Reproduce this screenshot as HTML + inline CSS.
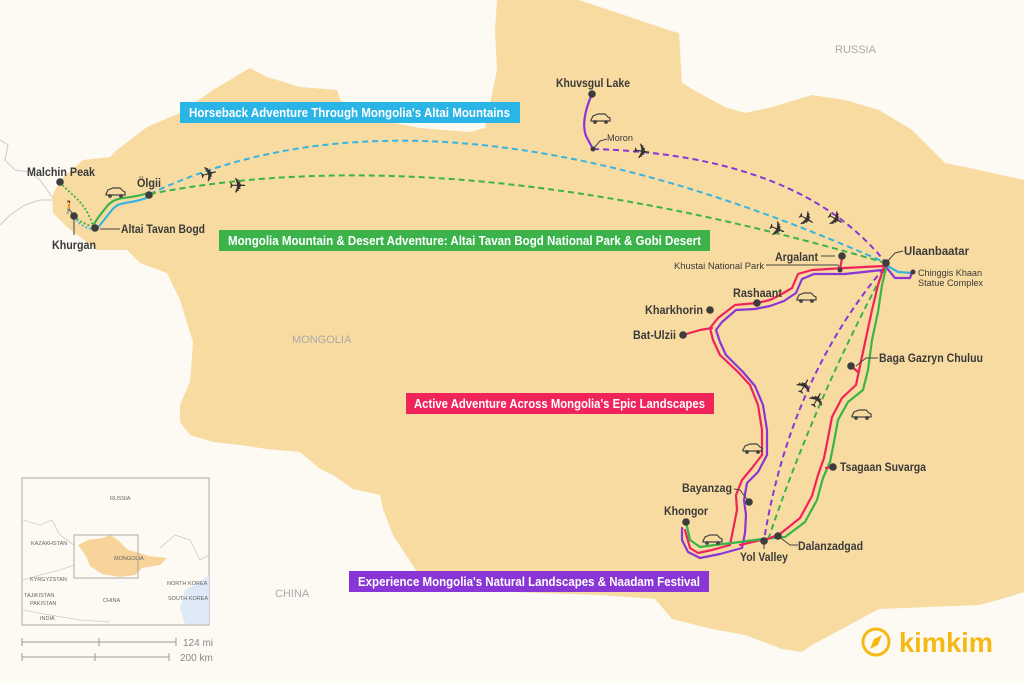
<!DOCTYPE html>
<html><head><meta charset="utf-8"><style>
html,body{margin:0;padding:0;background:#fdfaf3;}
svg{display:block;font-family:"Liberation Sans",sans-serif;}
.n{fill:#3d3d3d;}
.lb{font-weight:bold;font-size:12px;fill:#3a3a3a;}
.sm{font-size:9.5px;fill:#3a3a3a;}
.bar{font-weight:bold;font-size:12.5px;fill:#fff;}
.pl{font-family:"DejaVu Sans",sans-serif;font-size:21px;fill:#333;}
.r{fill:none;stroke-width:2.2;stroke-linejoin:round;stroke-linecap:round;}
.d{fill:none;stroke-width:2;stroke-dasharray:6 4;}
.ld{stroke:#444;stroke-width:1;fill:none;}
</style></head><body>
<svg width="1024" height="683" viewBox="0 0 1024 683" xmlns="http://www.w3.org/2000/svg">
<rect width="1024" height="683" fill="#fdfaf3"/>
<path d="M0,140 L8,145 L5,160 L15,170 L30,172 L40,180 L52,197 M0,225 L10,215 L25,205 L40,200 L52,200" stroke="#ccc" stroke-width="1" fill="none"/>
<path fill="#f8dba0" d="M52,197 L60,180 L83,160 L110,157 L117,150 L147,127 L180,113 L213,90 L250,68 L267,77 L300,87 L337,90 L340,100 L370,118 L420,128 L470,132 L485,128 L497,70 L495,30 L497,0 L579,0 L639,20 L668,30 L679,33 L682,83 L699,93 L725,107 L745,113 L772,107 L812,95 L845,100 L879,110 L912,130 L932,150 L945,163 L979,170 L1024,180 L1024,592 L1005,598 L979,605 L879,609 L812,645 L802,652 L782,649 L745,635 L712,629 L672,619 L655,599 L600,595 L512,592 L470,585 L417,572 L393,535 L383,509 L380,495 L353,489 L333,475 L320,469 L300,452 L267,449 L240,445 L213,442 L190,435 L180,422 L180,405 L190,382 L193,342 L180,300 L167,273 L140,263 L127,250 L97,250 L67,227 L53,213 Z"/>
<text x="835" y="53" font-size="11" fill="#a9a9a9">RUSSIA</text>
<text x="292" y="343" font-size="11" fill="#a9a9a9">MONGOLIA</text>
<text x="275" y="597" font-size="11" fill="#a9a9a9">CHINA</text>

<path class="d" stroke="#35b4e2" d="M150,194 Q430,60 886,263"/>
<path class="d" stroke="#3bb34a" d="M150,194 Q450,135 886,263"/>
<path class="d" stroke="#8a35d6" d="M593,149 Q800,155 886,263"/>
<path class="d" stroke="#8a35d6" d="M884,268 Q790,380 764,540"/>
<path class="d" stroke="#3bb34a" d="M886,268 Q815,400 768,540"/>

<path class="r" stroke="#8a35d6" d="M592,94 C585,110 582,125 586,136 L593,149"/>
<path class="r" stroke="#35b4e2" d="M149,197 C130,205 120,200 112,210 C104,220 100,225 96,230"/>
<path class="r" stroke="#3bb34a" d="M148,193 C128,200 118,195 108,205 C100,215 96,220 93,226"/>
<path stroke="#3bb34a" stroke-width="1.8" stroke-dasharray="2 2" fill="none" d="M60,182 C70,195 85,200 93,226"/>
<path stroke="#3bb34a" stroke-width="1.8" stroke-dasharray="2 2" fill="none" d="M74,216 C80,222 88,225 93,227"/>
<path stroke="#35b4e2" stroke-width="1.8" stroke-dasharray="2 2" fill="none" d="M74,216 C80,226 88,229 94,229"/>
<path class="r" stroke="#35b4e2" d="M886,265 L898,272 L912,273"/>
<path class="r" stroke="#8a35d6" d="M886,267 L895,278 L910,278 L912,272"/>

<path class="r" stroke="#f0245a" d="M884,266 L845,268 L812,270 L798,274 L792,288 L780,295 L770,300 L757,303 L735,305 L718,318 L710,328 L713,340 L720,355 L738,372 L750,385 L758,405 L762,430 L762,455 L752,468 L742,480 L736,495 L737,510 L733,530 L730,545 L712,550 L698,553 L690,548 L685,530"/>
<path class="r" stroke="#8a35d6" d="M882,270 L845,274 L814,274 L802,279 L796,293 L784,301 L770,306 L755,309 L736,310 L722,322 L716,330 L720,342 L726,355 L743,372 L755,386 L763,405 L767,430 L767,455 L758,472 L747,483 L744,500 L746,515 L745,533 L742,548 L720,554 L700,558 L688,552 L682,540 L682,528"/>
<path class="r" stroke="#f0245a" d="M683,335 L700,330 L712,328"/>
<path class="r" stroke="#f0245a" d="M840,270 L842,258"/>
<path class="r" stroke="#f0245a" d="M740,545 L765,539"/>
<path class="r" stroke="#3bb34a" d="M686,522 L690,540 L700,547 L715,545 L740,542 L762,539 L785,537 L805,522 L817,500 L823,478 L830,462 L834,442 L838,420 L848,402 L863,390 L868,370 L872,340 L878,312 L882,285 L886,268"/>
<path class="r" stroke="#f0245a" d="M765,540 L780,534 L800,518 L812,496 L818,475 L824,458 L828,438 L832,417 L842,398 L856,385 L860,366 L866,338 L872,310 L878,285 L884,267"/>
<path class="r" stroke="#f0245a" d="M851,366 L858,372"/>
<path class="r" stroke="#f0245a" d="M826,468 L833,467"/>

<text class="pl" x="200" y="181" transform="rotate(-15 210 174)">✈</text>
<text class="pl" x="229" y="193">✈</text>
<text class="pl" x="633" y="159" transform="rotate(8 643 152)">✈</text>
<text class="pl" x="797" y="227" transform="rotate(30 807 220)">✈</text>
<text class="pl" x="826" y="227" transform="rotate(30 836 220)">✈</text>
<text class="pl" x="768" y="237" transform="rotate(22 778 230)">✈</text>
<text class="pl" x="796" y="392" transform="rotate(-60 806 386)">✈</text>
<text class="pl" x="808" y="406" transform="rotate(-60 818 399)">✈</text>

<g fill="none" stroke="#444" stroke-width="1.2">
<g transform="translate(106,188)"><path d="M0,6 L2,2 L7,0 L14,0 L17,3 L19,4 L19,7 L0,7 Z"/><circle cx="4" cy="8" r="1.3" fill="#444"/><circle cx="15" cy="8" r="1.3" fill="#444"/></g>
<g transform="translate(591,114)"><path d="M0,6 L2,2 L7,0 L14,0 L17,3 L19,4 L19,7 L0,7 Z"/><circle cx="4" cy="8" r="1.3" fill="#444"/><circle cx="15" cy="8" r="1.3" fill="#444"/></g>
<g transform="translate(797,293)"><path d="M0,6 L2,2 L7,0 L14,0 L17,3 L19,4 L19,7 L0,7 Z"/><circle cx="4" cy="8" r="1.3" fill="#444"/><circle cx="15" cy="8" r="1.3" fill="#444"/></g>
<g transform="translate(743,444)"><path d="M0,6 L2,2 L7,0 L14,0 L17,3 L19,4 L19,7 L0,7 Z"/><circle cx="4" cy="8" r="1.3" fill="#444"/><circle cx="15" cy="8" r="1.3" fill="#444"/></g>
<g transform="translate(852,410)"><path d="M0,6 L2,2 L7,0 L14,0 L17,3 L19,4 L19,7 L0,7 Z"/><circle cx="4" cy="8" r="1.3" fill="#444"/><circle cx="15" cy="8" r="1.3" fill="#444"/></g>
<g transform="translate(703,535)"><path d="M0,6 L2,2 L7,0 L14,0 L17,3 L19,4 L19,7 L0,7 Z"/><circle cx="4" cy="8" r="1.3" fill="#444"/><circle cx="15" cy="8" r="1.3" fill="#444"/></g>
</g>
<text x="62" y="211" font-size="12" fill="#444" font-family="DejaVu Sans">🚶</text>

<path class="ld" d="M100,229 L120,229 M74,216 L74,235 M593,149 L600,141 L607,139 M886,263 L895,253 L903,251 M821,256 L835,256 M766,265 L838,265 L840,270 M856,366 L866,358 L878,358 M734,489 L740,490 L749,502 M764,541 L764,549 M778,536 L790,545 L798,545"/>

<g class="n">
<circle cx="60" cy="182" r="3.8"/><circle cx="74" cy="216" r="3.8"/><circle cx="95" cy="228" r="3.8"/><circle cx="149" cy="195" r="3.8"/>
<circle cx="592" cy="94" r="3.8"/><circle cx="593" cy="149" r="2.5"/><circle cx="886" cy="263" r="3.8"/><circle cx="913" cy="272" r="2.5"/>
<circle cx="842" cy="256" r="3.8"/><circle cx="840" cy="270" r="2.5"/><circle cx="757" cy="303" r="3.8"/><circle cx="710" cy="310" r="3.8"/>
<circle cx="683" cy="335" r="3.8"/><circle cx="851" cy="366" r="3.8"/><circle cx="833" cy="467" r="3.8"/><circle cx="749" cy="502" r="3.8"/>
<circle cx="686" cy="522" r="3.8"/><circle cx="764" cy="541" r="3.8"/><circle cx="778" cy="536" r="3.8"/>
</g>

<g lengthAdjust="spacingAndGlyphs">
<text class="lb" x="27" y="176" textLength="68" lengthAdjust="spacingAndGlyphs">Malchin Peak</text>
<text class="lb" x="52" y="249" textLength="44" lengthAdjust="spacingAndGlyphs">Khurgan</text>
<text class="lb" x="121" y="233" textLength="84" lengthAdjust="spacingAndGlyphs">Altai Tavan Bogd</text>
<text class="lb" x="137" y="187" textLength="24" lengthAdjust="spacingAndGlyphs">Ölgii</text>
<text class="lb" x="556" y="87" textLength="74" lengthAdjust="spacingAndGlyphs">Khuvsgul Lake</text>
<text class="sm" x="607" y="141" textLength="26" lengthAdjust="spacingAndGlyphs">Moron</text>
<text class="lb" x="904" y="255" textLength="65" lengthAdjust="spacingAndGlyphs">Ulaanbaatar</text>
<text class="sm" x="918" y="276" textLength="64" lengthAdjust="spacingAndGlyphs">Chinggis Khaan</text>
<text class="sm" x="918" y="286" textLength="65" lengthAdjust="spacingAndGlyphs">Statue Complex</text>
<text class="lb" x="775" y="261" textLength="43" lengthAdjust="spacingAndGlyphs">Argalant</text>
<text class="sm" x="674" y="269" textLength="90" lengthAdjust="spacingAndGlyphs">Khustai National Park</text>
<text class="lb" x="733" y="297" textLength="49" lengthAdjust="spacingAndGlyphs">Rashaant</text>
<text class="lb" x="645" y="314" textLength="58" lengthAdjust="spacingAndGlyphs">Kharkhorin</text>
<text class="lb" x="633" y="339" textLength="43" lengthAdjust="spacingAndGlyphs">Bat-Ulzii</text>
<text class="lb" x="879" y="362" textLength="104" lengthAdjust="spacingAndGlyphs">Baga Gazryn Chuluu</text>
<text class="lb" x="840" y="471" textLength="86" lengthAdjust="spacingAndGlyphs">Tsagaan Suvarga</text>
<text class="lb" x="682" y="492" textLength="50" lengthAdjust="spacingAndGlyphs">Bayanzag</text>
<text class="lb" x="664" y="515" textLength="44" lengthAdjust="spacingAndGlyphs">Khongor</text>
<text class="lb" x="740" y="561" textLength="48" lengthAdjust="spacingAndGlyphs">Yol Valley</text>
<text class="lb" x="798" y="550" textLength="65" lengthAdjust="spacingAndGlyphs">Dalanzadgad</text>
</g>

<rect x="180" y="102" width="340" height="21" fill="#2bb5e6"/>
<text class="bar" x="189" y="117" textLength="321" lengthAdjust="spacingAndGlyphs">Horseback Adventure Through Mongolia's Altai Mountains</text>
<rect x="219" y="230" width="491" height="21" fill="#3bb34a"/>
<text class="bar" x="228" y="245" textLength="473" lengthAdjust="spacingAndGlyphs">Mongolia Mountain &amp; Desert Adventure: Altai Tavan Bogd National Park &amp; Gobi Desert</text>
<rect x="406" y="393" width="308" height="21" fill="#f0245a"/>
<text class="bar" x="414" y="408" textLength="291" lengthAdjust="spacingAndGlyphs">Active Adventure Across Mongolia's Epic Landscapes</text>
<rect x="349" y="571" width="360" height="21" fill="#8a35d6"/>
<text class="bar" x="358" y="586" textLength="342" lengthAdjust="spacingAndGlyphs">Experience Mongolia's Natural Landscapes &amp; Naadam Festival</text>

<rect x="22" y="478" width="187" height="147" fill="#fdfaf3" stroke="#aaa" stroke-width="1"/>
<path d="M180,608 L185,590 L195,585 L209,575 L209,624 L185,624 Z" fill="#dde9f7"/>
<path d="M23,520 L40,525 L52,520 L60,535 L74,545 M23,580 L40,575 L60,570 L74,565 M160,548 L175,535 L190,540 L200,560 L209,555 M23,610 L50,615 L80,620 L110,622" stroke="#ccc" stroke-width="0.8" fill="none"/>
<path d="M78,545 L88,540 L103,538 L110,535 L118,540 L128,550 L140,553 L148,556 L167,558 L160,565 L142,568 L135,575 L120,577 L102,574 L90,566 L86,556 Z" fill="#f8d49a"/>
<rect x="74" y="535" width="64" height="43" fill="none" stroke="#999" stroke-width="0.8"/>
<g font-size="5.5" fill="#666">
<text x="110" y="500">RUSSIA</text><text x="31" y="545">KAZAKHSTAN</text><text x="114" y="560">MONGOLIA</text>
<text x="30" y="581">KYRGYZSTAN</text><text x="24" y="597">TAJIKISTAN</text><text x="30" y="605">PAKISTAN</text>
<text x="40" y="620">INDIA</text><text x="103" y="602">CHINA</text><text x="167" y="585">NORTH KOREA</text><text x="168" y="600">SOUTH KOREA</text>
</g>
<path d="M22,642 L176,642 M22,638 L22,646 M99,638 L99,646 M176,638 L176,646 M22,657 L169,657 M22,653 L22,661 M95,653 L95,661 M169,653 L169,661" stroke="#999" stroke-width="1"/>
<text x="183" y="646" font-size="10" fill="#888">124 mi</text>
<text x="180" y="661" font-size="10" fill="#888">200 km</text>

<circle cx="876" cy="642" r="13" fill="none" stroke="#f5b916" stroke-width="3"/>
<path d="M882,635 L878,645 L870,649 L874,639 Z" fill="#f5b916"/>
<text x="899" y="652" font-size="28" fill="#f5b916" font-weight="bold" textLength="94" lengthAdjust="spacingAndGlyphs">kimkim</text>
</svg>
</body></html>
